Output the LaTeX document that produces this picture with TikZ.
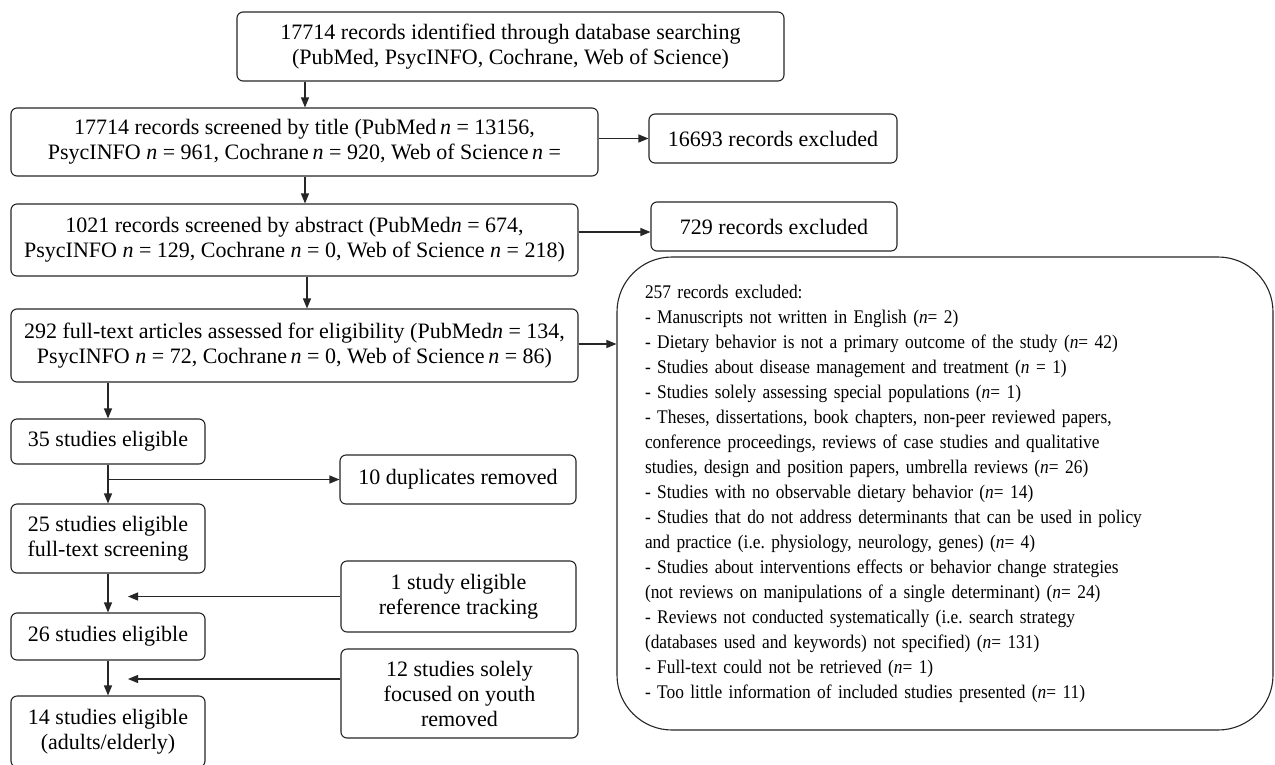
\documentclass[tikz,border=0pt]{standalone}
\usepackage{fontspec}
\setmainfont{Liberation Serif}
\newfontfamily\condfont[FakeStretch=0.9]{Liberation Serif}
\usetikzlibrary{arrows.meta}
\begin{document}
\frenchspacing
\begin{tikzpicture}[x=1pt,y=-1pt,
  box/.style={draw=black!85, line width=1.1pt, rounded corners=6pt, align=center, inner sep=0pt, font=\fontsize{22}{25}\selectfont},
  bigbox/.style={draw=black!85, line width=1.1pt, rounded corners=55pt, align=left, inner xsep=28pt, inner ysep=0pt, text width=600pt, font=\condfont\fontsize{19.3}{25}\selectfont},
  arr/.style={draw=black!85, line width=1.1pt, -{Triangle[length=10pt,width=8pt]}},
]
\useasboundingbox (0,0) rectangle (1275,764);
\fill[white] (0,0) rectangle (1275,764);
\newcommand{\nn}{\textit{n}}
% main column
\node[box, minimum width=547pt, minimum height=69pt] (b1) at (510.5,46.5) {17714 records identified through database searching\\(PubMed, PsycINFO, Cochrane, Web of Science)};
\node[box, minimum width=587pt, minimum height=68pt] (b2) at (304.5,142) {17714 records screened by title (PubMed\,\nn{} = 13156,\\PsycINFO \nn{} = 961, Cochrane\,\nn{} = 920, Web of Science\,\nn{} =};
\node[box, minimum width=567pt, minimum height=72pt] (b3) at (294.5,240) {1021 records screened by abstract (PubMed\nn{} = 674,\\PsycINFO \nn{} = 129, Cochrane \nn{} = 0, Web of Science \nn{} = 218)};
\node[box, minimum width=567pt, minimum height=73pt] (b4) at (294.5,345.5) {292 full-text articles assessed for eligibility (PubMed\nn{} = 134,\\PsycINFO \nn{} = 72, Cochrane\,\nn{} = 0, Web of Science\,\nn{} = 86)};
\node[box, minimum width=194pt, minimum height=45pt] (b35) at (108,441.5) {35 studies eligible};
\node[box, minimum width=194pt, minimum height=69pt] (b25) at (108,538.5) {25 studies eligible\\full-text screening};
\node[box, minimum width=194pt, minimum height=47pt] (b26) at (108,636.5) {26 studies eligible};
\node[box, minimum width=194pt, minimum height=71pt] (b14) at (108,731.5) {14 studies eligible\\(adults/elderly)};
% side boxes
\node[box, minimum width=248pt, minimum height=49pt] (e1) at (773,138.5) {16693 records excluded};
\node[box, minimum width=246pt, minimum height=49pt] (e2) at (774,226.5) {729 records excluded};
\node[box, minimum width=236pt, minimum height=49pt] (dup) at (458,479.5) {10 duplicates removed};
\node[box, minimum width=235pt, minimum height=71pt] (ref) at (458.5,596.5) {1 study eligible\\reference tracking};
\node[box, minimum width=237pt, minimum height=89pt] (youth) at (459.5,693.5) {12 studies solely\\focused on youth\\removed};
\node[bigbox, minimum width=656pt, minimum height=473pt] (big) at (945,493.5) {257 records excluded:\\
- Manuscripts not written in English (\nn= 2)\\
- Dietary behavior is not a primary outcome of the study (\nn= 42)\\
- Studies about disease management and treatment (\nn{} = 1)\\
- Studies solely assessing special populations (\nn= 1)\\
- Theses, dissertations, book chapters, non-peer reviewed papers,\\
conference proceedings, reviews of case studies and qualitative\\
studies, design and position papers, umbrella reviews (\nn= 26)\\
- Studies with no observable dietary behavior (\nn= 14)\\
- Studies that do not address determinants that can be used in policy\\
and practice (i.e. physiology, neurology, genes) (\nn= 4)\\
- Studies about interventions effects or behavior change strategies\\
(not reviews on manipulations of a single determinant) (\nn= 24)\\
- Reviews not conducted systematically (i.e. search strategy\\
(databases used and keywords) not specified) (\nn= 131)\\
- Full-text could not be retrieved (\nn= 1)\\
- Too little information of included studies presented (\nn= 11)};
% free arrow ends
\coordinate (t1) at (128,596.5);
\coordinate (t2) at (128,679);
% connectors
\draw[arr] (305,0 |- b1.south) -- (305,0 |- b2.north);
\draw[arr] (305,0 |- b2.south) -- (305,0 |- b3.north);
\draw[arr] (307,0 |- b3.south) -- (307,0 |- b4.north);
\draw[arr] (b2.east |- e1.west) -- (e1.west);
\draw[arr] (b3.east |- 0,232) -- (e2.west |- 0,232);
\draw[arr] (b4.east |- 0,344) -- (big.west |- 0,344);
\draw[arr] (b35.north |- b4.south) -- (b35.north);
\draw[arr] (b35.south) -- (b25.north);
\draw[arr] (b35.south |- dup.west) -- (dup.west);
\draw[arr] (b25.south) -- (b26.north);
\draw[arr] (b26.south) -- (b14.north);
\draw[arr] (ref.west) -- (t1);
\draw[arr] (youth.west |- t2) -- (t2);
\end{tikzpicture}
\end{document}
